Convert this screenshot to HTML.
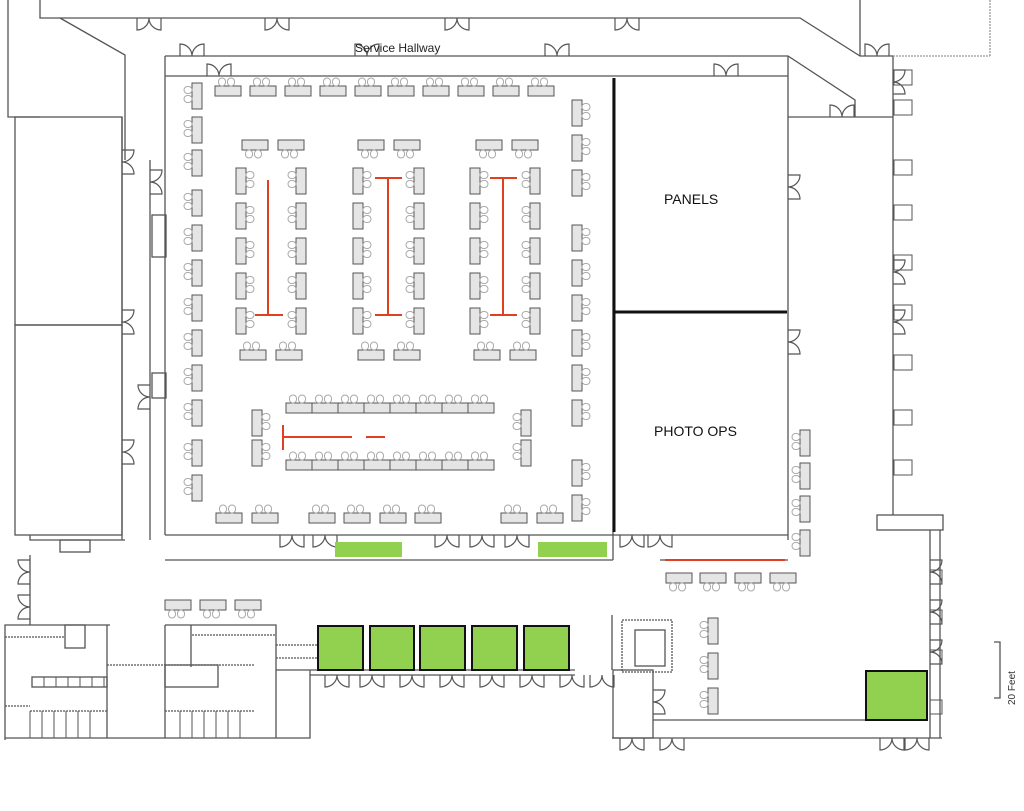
<!DOCTYPE html>
<html><head><meta charset="utf-8"><style>
html,body{margin:0;padding:0;background:#fff;width:1024px;height:811px;overflow:hidden}
svg{display:block}
text{font-family:"Liberation Sans",sans-serif}
</style></head><body>
<svg id="s" width="1024" height="811" viewBox="0 0 1024 811" xmlns="http://www.w3.org/2000/svg">
<g fill="none" stroke="#555" stroke-width="1.3">
<polyline points="8,0 8,117 40,117"/>
<polyline points="40,0 40,18 800,18 860,56 893,56 893,515"/>
<line x1="860" y1="0" x2="860" y2="56"/>
<polyline points="893,56 990,56" stroke-dasharray="2,1" stroke="#999"/>
<line x1="990" y1="0" x2="990" y2="56" stroke-dasharray="2,1" stroke="#999"/>
<polyline points="60,18 125,55 125,160"/>
<polyline points="165,56 788,56 855,100 855,117"/>
<line x1="165" y1="56" x2="165" y2="535"/>
<line x1="165" y1="76" x2="788" y2="76"/>
<line x1="788" y1="56" x2="788" y2="540"/>
<line x1="788" y1="117" x2="893" y2="117"/>
<line x1="165" y1="535" x2="613" y2="535"/>
<line x1="165" y1="560" x2="613" y2="560"/>
<line x1="613" y1="78" x2="613" y2="560"/>
<line x1="613" y1="535" x2="788" y2="535"/>
<line x1="660" y1="560" x2="788" y2="560"/>
<rect x="15" y="117" width="107" height="208"/>
<rect x="15" y="325" width="107" height="210"/>
<polyline points="30,535 30,540 125,540"/>
<rect x="60" y="540" width="30" height="12"/>
<line x1="122" y1="117" x2="122" y2="540"/>
<line x1="150" y1="160" x2="150" y2="540"/>
<rect x="152" y="215" width="14" height="42"/>
<rect x="152" y="373" width="14" height="25"/>
<line x1="30" y1="555" x2="30" y2="625"/>
<polyline points="5,740 5,625 110,625"/>
<polyline points="165,625 276,625 276,738 5,738"/>
<line x1="5" y1="637" x2="65" y2="637" stroke-dasharray="2,1"/>
<rect x="65" y="625" width="20" height="23"/>
<line x1="107" y1="625" x2="107" y2="738"/>
<line x1="165" y1="625" x2="165" y2="738"/>
<line x1="191" y1="625" x2="191" y2="667"/>
<line x1="107" y1="665" x2="165" y2="665" stroke-dasharray="2,1"/>
<line x1="165" y1="665" x2="255" y2="665" stroke-dasharray="2,1"/>
<line x1="192" y1="635" x2="276" y2="635" stroke-dasharray="2,1"/>
<line x1="5" y1="706" x2="30" y2="706" stroke-dasharray="2,1"/>
<line x1="30" y1="711" x2="107" y2="711" stroke-dasharray="2,1"/>
<line x1="165" y1="711" x2="255" y2="711" stroke-dasharray="2,1"/>
<rect x="32" y="677" width="75" height="10"/>
<rect x="165" y="665" width="53" height="22"/>
<line x1="276" y1="670" x2="310" y2="670"/>
<polyline points="310,670 310,738 276,738"/>
<line x1="276" y1="645" x2="318" y2="645" stroke-dasharray="2,1"/>
<line x1="276" y1="658" x2="318" y2="658" stroke-dasharray="2,1"/>
<line x1="310" y1="670" x2="575" y2="670"/>
<line x1="310" y1="675" x2="575" y2="675"/>
<rect x="613" y="670" width="40" height="68"/>
<line x1="653" y1="720" x2="865" y2="720"/>
<line x1="612" y1="738" x2="942" y2="738"/>
<line x1="612" y1="615" x2="612" y2="670"/>
<rect x="622" y="620" width="50" height="52" stroke-dasharray="2,1"/>
<rect x="635" y="630" width="30" height="36"/>
<line x1="940" y1="530" x2="940" y2="738"/>
<rect x="877" y="515" width="66" height="15"/>
<line x1="930" y1="530" x2="930" y2="738"/>
<polyline points="994,642 1000,642 1000,698 994,698"/>
</g>
<g id="d" fill="none" stroke="#555" stroke-width="1.2"></g>
<g id="t"></g>
<g stroke="#111" stroke-width="3"><line x1="614" y1="78" x2="614" y2="532"/><line x1="614" y1="312" x2="787" y2="312"/></g>
<g stroke="#e0401f" stroke-width="2" fill="none">
<line x1="268" y1="180" x2="268" y2="315"/><line x1="255" y1="315" x2="283" y2="315"/>
<line x1="388" y1="178" x2="388" y2="315"/><line x1="375" y1="178" x2="402" y2="178"/><line x1="375" y1="315" x2="402" y2="315"/>
<line x1="503" y1="178" x2="503" y2="315"/><line x1="490" y1="178" x2="517" y2="178"/><line x1="490" y1="315" x2="517" y2="315"/>
<line x1="283" y1="437" x2="352" y2="437"/><line x1="366" y1="437" x2="385" y2="437"/><line x1="283" y1="425" x2="283" y2="450"/>
<line x1="665" y1="560" x2="785" y2="560"/>
</g>
<g fill="#92d050" stroke="#111" stroke-width="2">
<rect x="318" y="626" width="45" height="44"/><rect x="370" y="626" width="44" height="44"/><rect x="420" y="626" width="45" height="44"/><rect x="472" y="626" width="45" height="44"/><rect x="524" y="626" width="45" height="44"/>
<rect x="866" y="671" width="61" height="49"/>
</g>
<g fill="#92d050"><rect x="335" y="542" width="67" height="15"/><rect x="538" y="542" width="69" height="15"/></g>
<text x="355" y="52" font-size="12" fill="#222">Service Hallway</text>
<text x="664" y="204" font-size="14" fill="#111">PANELS</text>
<text x="654" y="436" font-size="14" fill="#111">PHOTO OPS</text>
<text x="0" y="0" font-size="10" fill="#333" transform="translate(1015,705) rotate(-90)">20 Feet</text>
</svg>
<script>
var g=document.getElementById('t'),dg=document.getElementById('d'),NS='http://www.w3.org/2000/svg';
function el(n,a,p){var e=document.createElementNS(NS,n);for(var k in a)e.setAttribute(k,a[k]);(p||g).appendChild(e);}
function H(x,y,c){el('rect',{x:x,y:y,width:26,height:10,fill:'#e5e5e5',stroke:'#555','stroke-width':1});
 for(var i=0;i<2;i++){var cx=x+7+i*9;var cy=c=='u'?y-8:y+10;el('rect',{x:cx-3.5,y:cy,width:7,height:8,rx:3.5,fill:'#fff',stroke:'#aaa','stroke-width':1});}}
function V(x,y,c){el('rect',{x:x,y:y,width:10,height:26,fill:'#e5e5e5',stroke:'#555','stroke-width':1});
 for(var i=0;i<2;i++){var cy=y+7+i*9;var cx=c=='l'?x-8:x+10;el('rect',{x:cx,y:cy-3.5,width:8,height:7,ry:3.5,fill:'#fff',stroke:'#aaa','stroke-width':1});}}
// double door, horizontal wall at y, dir -1 up, +1 down
function DD(x,y,dir){var r=12;el('path',{d:'M'+x+' '+y+' v'+(dir*r)+' A'+r+' '+r+' 0 0 '+(dir>0?0:1)+' '+(x+r)+' '+y+' A'+r+' '+r+' 0 0 '+(dir>0?0:1)+' '+(x+2*r)+' '+(y+dir*r)+' v'+(-dir*r)},dg);}
function DV(x,y,dir){var r=12;el('path',{d:'M'+x+' '+y+' h'+(dir*r)+' A'+r+' '+r+' 0 0 '+(dir>0?1:0)+' '+x+' '+(y+r)+' A'+r+' '+r+' 0 0 '+(dir>0?1:0)+' '+(x+dir*r)+' '+(y+2*r)+' h'+(-dir*r)},dg);}
[[137,18,1],[265,18,1],[445,18,1],[615,18,1],[180,56,-1],[545,56,-1],[355,56,-1],[207,76,-1],[714,76,-1],[865,56,-1],[830,117,-1],
 [280,535,1],[313,535,1],[435,535,1],[470,535,1],[505,535,1],[620,535,1],[648,535,1],
 [325,675,1],[360,675,1],[400,675,1],[440,675,1],[480,675,1],[520,675,1],[560,675,1],[590,675,1],[620,738,1],[660,738,1],[880,738,1],[905,738,1]].forEach(function(a){DD(a[0],a[1],a[2])});
[[122,150,1],[122,310,1],[122,440,1],[150,170,1],[150,385,-1],[788,175,1],[788,330,1],[893,70,1],[893,260,1],[893,310,1],[930,560,1],[930,600,1],[930,640,1],[30,560,-1],[30,595,-1],[653,690,1]].forEach(function(a){DV(a[0],a[1],a[2])});
[215,250,285,320,355,388,423,458,493,528].forEach(function(x){H(x,86,'u')});
[83,117,150,190,225,260,295,330,365,400,440,475].forEach(function(y){V(192,y,'l')});
[100,135,170,225,260,295,330,365,400,460,495].forEach(function(y){V(572,y,'r')});
[[242,278],[358,394],[476,512]].forEach(function(p){H(p[0],140,'d');H(p[1],140,'d')});
[[240,276],[358,394],[474,510]].forEach(function(p){H(p[0],350,'u');H(p[1],350,'u')});
[[236,296],[353,414],[470,530]].forEach(function(p){[168,203,238,273,308].forEach(function(y){V(p[0],y,'r');V(p[1],y,'l')})});
for(var i=0;i<8;i++){H(286+i*26,403,'u');H(286+i*26,460,'u');}
V(252,410,'r');V(252,440,'r');V(521,410,'l');V(521,440,'l');
[216,252,309,344,380,415,501,537].forEach(function(x){H(x,513,'u')});
[430,463,496,530].forEach(function(y){V(800,y,'l')});
[666,700,735,770].forEach(function(x){H(x,573,'d')});
[618,653,688].forEach(function(y){V(708,y,'l')});
[165,200,235].forEach(function(x){H(x,600,'d')});
[70,100,160,205,255,305,355,410,460].forEach(function(y){el('rect',{x:894,y:y,width:18,height:15,fill:'none',stroke:'#555'})});
[570,610,650,700].forEach(function(y){el('rect',{x:930,y:y,width:12,height:14,fill:'none',stroke:'#555'})});
// stalls
for(var i=0;i<6;i++){el('line',{x1:30+i*12,y1:711,x2:30+i*12,y2:738,stroke:'#555'});el('line',{x1:180+i*12,y1:711,x2:180+i*12,y2:738,stroke:'#555'});}
for(var i=0;i<6;i++){el('line',{x1:44+i*12,y1:677,x2:44+i*12,y2:687,stroke:'#555'});}
</script>
</body></html>
